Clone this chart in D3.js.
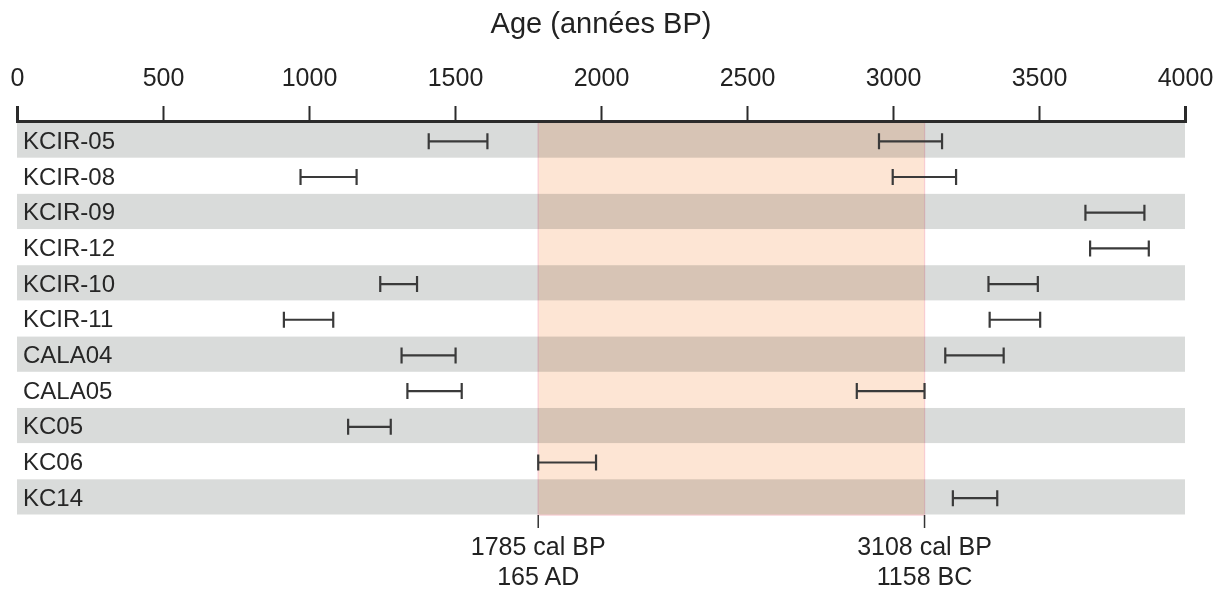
<!DOCTYPE html>
<html>
<head>
<meta charset="utf-8">
<script src="https://cdn.jsdelivr.net/npm/d3@7"></script>
<style>
	body { margin: 0; background: #fff; }
	svg { display: block; font-family: 'Liberation Sans', Arial, sans-serif; }
</style>
</head>
<body>
<script>
// ---------------------------------DATA---------------------------------
const samples = ['KCIR-05', 'KCIR-08', 'KCIR-09', 'KCIR-12', 'KCIR-10', 'KCIR-11', 'CALA04', 'CALA05', 'KC05', 'KC06', 'KC14'];
// younger age range (cal BP), null = none
const youngFrom = [1410, 971, null, null, 1244, 914, 1317, 1337, 1134, 1785, null];
const youngTo = [1611, 1163, null, null, 1370, 1083, 1502, 1523, 1280, 1983, null];
// older age range (cal BP)
const oldFrom = [2952, 2999, 3659, 3675, 3327, 3331, 3179, 2876, null, null, 3205];
const oldTo = [3168, 3216, 3861, 3876, 3496, 3504, 3379, 3108, null, null, 3357];
// gap shown as shaded band
const gapBounds = [1785, 3108];
const gapLabels = [['1785 cal BP', '165 AD'], ['3108 cal BP', '1158 BC']];
const xTicks = [0, 500, 1000, 1500, 2000, 2500, 3000, 3500, 4000];

// ---------------------------------SVG---------------------------------
const width = 1228, height = 590;
const svg = d3.select('body').append('svg').attr('width', width).attr('height', height);

const x = d3.scaleLinear().domain([0, 4000]).range([17, 1185]);
const y = d3.scaleBand().domain(samples).range([122.5, 515]).padding(0);

// alternating row backgrounds
svg.append('g')
	.selectAll('rect')
	.data(samples)
	.join('rect')
	.attr('x', x(0))
	.attr('y', (d) => y(d))
	.attr('width', x(4000) - x(0))
	.attr('height', y.bandwidth() - 0.5)
	.attr('fill', (d, i) => (i % 2 === 0 ? '#d9dbda' : '#fff'));

// shaded gap, multiplied over the rows
svg.append('rect')
	.attr('x', x(gapBounds[0]))
	.attr('y', y.range()[0])
	.attr('width', x(gapBounds[1]) - x(gapBounds[0]))
	.attr('height', y.range()[1] - y.range()[0])
	.attr('fill', '#fde5d4')
	.attr('stroke', '#f8cdd2')
	.attr('stroke-width', 1.3)
	.style('mix-blend-mode', 'multiply');

// row labels
svg.append('g')
	.selectAll('text')
	.data(samples)
	.join('text')
	.attr('x', 23)
	.attr('y', (d) => y(d) + y.bandwidth() / 2)
	.attr('dy', '0.36em')
	.attr('font-size', 24)
	.attr('fill', '#262626')
	.text((d) => d);

// error bars
const ranges = [];
samples.forEach((s, i) => {
	if (youngFrom[i] != null) ranges.push({ s, a: youngFrom[i], b: youngTo[i] });
	if (oldFrom[i] != null) ranges.push({ s, a: oldFrom[i], b: oldTo[i] });
});

const bars = svg.append('g').attr('stroke', '#3a3a3a').attr('stroke-width', 2.2).attr('fill', 'none');
bars.selectAll('path')
	.data(ranges)
	.join('path')
	.attr('d', (d) => {
		const cy = y(d.s) + y.bandwidth() / 2 + 1;
		const x0 = x(d.a), x1 = x(d.b);
		return `M${x0},${cy - 8}V${cy + 8}M${x0},${cy}H${x1}M${x1},${cy - 8}V${cy + 8}`;
	});

// top axis
const axis = svg.append('g')
	.attr('transform', 'translate(0,121)')
	.call(d3.axisTop(x).tickValues(xTicks).tickSize(15).tickPadding(20).tickFormat(d3.format('d')));
axis.select('.domain').attr('stroke', '#2b2b2b').attr('stroke-width', 3);
axis.selectAll('.tick line').attr('stroke', '#2b2b2b').attr('stroke-width', 2);
axis.selectAll('.tick text')
	.attr('font-size', 25)
	.attr('font-family', "'Liberation Sans', Arial, sans-serif")
	.attr('fill', '#222');

svg.append('text')
	.attr('x', (x(0) + x(4000)) / 2)
	.attr('y', 33)
	.attr('text-anchor', 'middle')
	.attr('font-size', 29)
	.attr('fill', '#222')
	.text('Age (années BP)');

// gap bound markers below
const marks = svg.append('g')
	.selectAll('g')
	.data(gapBounds)
	.join('g')
	.attr('transform', (d) => `translate(${x(d)},${y.range()[1]})`);
marks.append('line').attr('y1', 0).attr('y2', 13).attr('stroke', '#333').attr('stroke-width', 1.5);
marks.append('text')
	.attr('text-anchor', 'middle')
	.attr('font-size', 25)
	.attr('fill', '#222')
	.selectAll('tspan')
	.data((d, i) => gapLabels[i])
	.join('tspan')
	.attr('x', 0)
	.attr('y', (d, j) => 40 + j * 30)
	.text((d) => d);
</script>
</body>
</html>
